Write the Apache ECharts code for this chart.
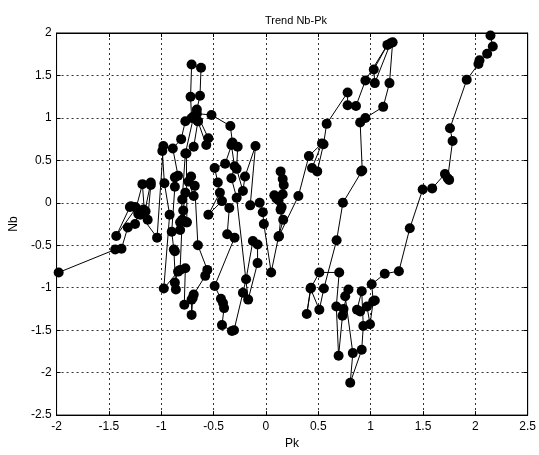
<!DOCTYPE html>
<html>
<head>
<meta charset="utf-8">
<script src="https://cdn.jsdelivr.net/npm/echarts@6/dist/echarts.min.js"></script>
<style>
  html, body { margin: 0; padding: 0; background: #fff; }
  #chart { width: 539px; height: 455px; }
</style>
</head>
<body>
<div id="chart"></div>
<script>
// trajectory, in drawing order
var pk = [
  -1.98, -1.44, -1.38, -1.32, -1.25, -1.22, -1.29, -1.25, -1.21, -1.17,
  -1.15, -1.13, -1.10, -1.10, -1.16, -1.18, -1.24, -1.43, -1.30, -1.20,
  -1.04, -0.98, -0.99, -0.97, -0.92, -0.976, -0.84, -0.87, -0.86, -0.88,
  -0.87, -0.90, -0.87, -0.87, -0.84, -0.89, -0.81, -0.77, -0.71, -0.72,
  -0.71, -0.62, -0.63, -0.66, -0.65, -0.69, -0.77, -0.80, -0.82, -0.82,
  -0.76, -0.79, -0.77, -0.69, -0.74, -0.715, -0.68, -0.65, -0.56, -0.58,
  -0.69, -0.70, -0.71, -0.71, -0.78, -0.77, -0.82, -0.80, -0.755, -0.76,
  -0.69, -0.65, -0.57, -0.55, -0.66, -0.52, -0.34, -0.32, -0.39, -0.49,
  -0.46, -0.44, -0.55, -0.42, -0.35, -0.37, -0.30, -0.49, -0.43, -0.41,
  -0.40, -0.42, -0.325, -0.305, -0.22, -0.19, -0.125, -0.08, -0.08, -0.17,
  -0.28, -0.33, -0.30, -0.33, -0.27, -0.28, -0.22, -0.20, -0.10, -0.15,
  -0.06, -0.03, -0.02, 0.05, 0.12, 0.165, 0.14, 0.10, 0.125, 0.16,
  0.14, 0.16, 0.17, 0.12, 0.08, 0.15, 0.125, 0.31, 0.41, 0.535,
  0.44, 0.49, 0.55, 0.58, 0.78, 0.78, 0.86, 0.95, 1.16, 1.03,
  1.04, 1.19, 1.21, 1.18, 1.12, 0.95, 0.90, 0.92, 0.91, 0.735,
  0.675, 0.553, 0.51, 0.426, 0.39, 0.43, 0.51, 0.70, 0.672, 0.694,
  0.731, 0.741, 0.788, 0.757, 0.83, 0.805, 0.915, 0.93, 0.915, 0.87,
  0.90, 0.965, 0.994, 1.025, 1.04, 1.01, 1.135, 1.27, 1.374, 1.497,
  1.588, 1.71, 1.736, 1.75, 1.783, 1.758, 1.918, 2.03, 2.04, 2.113,
  2.167, 2.145
];
var nb = [
  -0.82, -0.55, -0.54, -0.29, -0.25, -0.13, -0.04, -0.05, -0.10, -0.08,
  -0.10, -0.20, 0.21, 0.24, -0.12, 0.22, -0.06, -0.39, -0.05, -0.14,
  -0.41, 0.67, 0.61, 0.23, -0.14, -1.01, -0.81, -0.94, -1.02, -0.55,
  -0.57, -0.34, 0.19, 0.30, 0.32, 0.64, 0.75, 0.96, 1.00, 1.25,
  1.63, 1.59, 1.26, 1.10, 0.96, 1.02, 0.58, 0.04, -0.32, -0.23,
  -0.23, -0.09, 0.12, 0.08, 0.25, 0.31, 0.20, -0.50, -0.79, -0.86,
  -1.08, -1.12, -1.32, -1.14, -1.20, -0.77, -0.79, -0.20, -0.23, 0.58,
  0.66, 0.96, 0.68, 0.76, 1.05, 1.035, 0.905, 0.71, 0.46, 0.41,
  0.24, 0.12, -0.14, 0.02, -0.06, -0.37, -0.41, -0.98, -1.13, -1.18,
  -1.24, -1.44, -1.51, -1.50, -1.06, -0.90, -0.45, -0.49, -0.71, -1.14,
  0.06, 0.29, 0.43, 0.68, 0.66, 0.40, 0.14, 0.31, 0.67, -0.03,
  0.00, -0.11, -0.25, -0.82, -0.40, -0.20, -0.08, 0.05, 0.07, 0.10,
  0.37, 0.28, 0.21, 0.03, 0.09, -0.05, -0.39, 0.08, 0.55, 0.70,
  0.41, 0.37, 0.69, 0.93, 1.30, 1.15, 1.14, 1.44, 1.86, 1.57,
  1.41, 1.88, 1.89, 1.41, 1.13, 1.00, 0.945, 0.38, 0.37, 0.00,
  -0.44, -1.01, -1.26, -1.01, -1.31, -1.00, -0.82, -0.82, -1.22, -1.80,
  -1.33, -1.25, -1.02, -1.10, -1.77, -2.12, -1.73, -1.45, -1.04, -1.26,
  -1.28, -1.22, -1.43, -1.16, -1.15, -0.96, -0.835, -0.805, -0.30, 0.156,
  0.17, 0.34, 0.29, 0.27, 0.728, 0.878, 1.449, 1.634, 1.68, 1.756,
  1.84, 1.97
];
var xTicks = [-2, -1.5, -1, -0.5, 0, 0.5, 1, 1.5, 2, 2.5];
var yTicks = [-2.5, -2, -1.5, -1, -0.5, 0, 0.5, 1, 1.5, 2];

var points = [];
for (var i = 0; i < pk.length; i++) {
  points.push([pk[i], nb[i]]);
}

var chart = echarts.init(document.getElementById('chart'));
var labelFont = { color: '#000', fontSize: 12, fontFamily: 'Liberation Sans, Arial, sans-serif' };
var gridLine = { show: true, lineStyle: { color: '#333', type: [2, 3], width: 1 } };

var option = {
  animation: false,
  backgroundColor: '#fff',
  title: {
    text: 'Trend Nb-Pk',
    left: 291,
    top: 10,
    textAlign: 'center',
    textStyle: { color: '#000', fontSize: 11, fontWeight: 'normal', fontFamily: 'Liberation Sans, Arial, sans-serif' }
  },
  grid: {
    left: 53, top: 33, right: 10, bottom: 39,
    show: true, borderColor: '#000', borderWidth: 1
  },
  xAxis: [{
    type: 'value',
    min: -2, max: 2.5, interval: 0.5,
    name: 'Pk', nameLocation: 'middle', nameGap: 21,
    nameTextStyle: labelFont,
    axisLine: { show: true, onZero: false, lineStyle: { color: '#000' } },
    axisTick: { show: true, inside: true, length: 4, lineStyle: { color: '#000' } },
    axisLabel: Object.assign({ margin: 6, formatter: function (v) { return xTicks.indexOf(v) >= 0 ? String(v) : ''; } }, labelFont),
    splitLine: gridLine
  }, {
    type: 'value', position: 'top',
    min: -2, max: 2.5, interval: 0.5,
    axisLine: { show: true, onZero: false, lineStyle: { color: '#000' } },
    axisTick: { show: true, inside: true, length: 4, lineStyle: { color: '#000' } },
    axisLabel: { show: false },
    splitLine: { show: false }
  }],
  yAxis: [{
    type: 'value',
    min: -2.5, max: 2, interval: 0.5,
    name: 'Nb', nameLocation: 'middle', nameGap: 28,
    nameTextStyle: labelFont,
    axisLine: { show: true, onZero: false, lineStyle: { color: '#000' } },
    axisTick: { show: true, inside: true, length: 4, lineStyle: { color: '#000' } },
    axisLabel: Object.assign({ margin: 5, formatter: function (v) { return yTicks.indexOf(v) >= 0 ? String(v) : ''; } }, labelFont),
    splitLine: gridLine
  }, {
    type: 'value', position: 'right',
    min: -2.5, max: 2, interval: 0.5,
    axisLine: { show: true, onZero: false, lineStyle: { color: '#000' } },
    axisTick: { show: true, inside: true, length: 4, lineStyle: { color: '#000' } },
    axisLabel: { show: false },
    splitLine: { show: false }
  }],
  series: [{
    type: 'line',
    data: points,
    symbol: 'circle',
    symbolSize: 10,
    showAllSymbol: true,
    itemStyle: { color: '#000' },
    lineStyle: { color: '#000', width: 1 }
  }]
};
chart.setOption(option);
</script>
</body>
</html>
